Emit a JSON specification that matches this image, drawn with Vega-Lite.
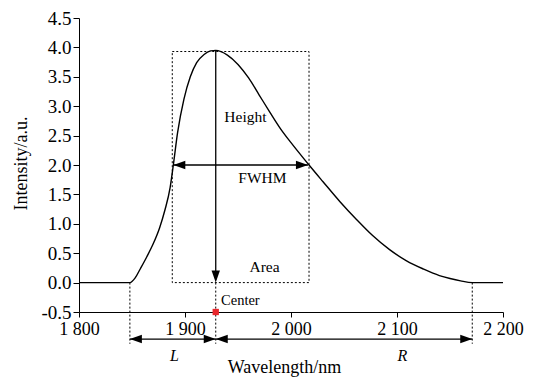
{
  "$schema": "https://vega.github.io/schema/vega-lite/v6.json",
  "width": 424,
  "height": 294,
  "autosize": "none",
  "padding": {"left": 79, "top": 18, "right": 31, "bottom": 66},
  "background": "white",
  "config": {
    "view": {"stroke": null},
    "font": "Liberation Serif",
    "axis": {
      "grid": false,
      "domainColor": "black",
      "tickColor": "black",
      "labelColor": "black",
      "titleColor": "black",
      "labelFont": "Liberation Serif",
      "titleFont": "Liberation Serif",
      "labelFontSize": 18,
      "titleFontSize": 18,
      "titleFontWeight": "normal",
      "domainWidth": 1,
      "tickWidth": 1
    }
  },
  "encoding": {
    "x": {
      "field": "x",
      "type": "quantitative",
      "scale": {"domain": [1800, 2200], "nice": false, "zero": false},
      "axis": {
        "values": [1800, 1900, 2000, 2100, 2200],
        "labelExpr": "replace(format(datum.value, ',d'), ',', ' ')",
        "tickSize": 5,
        "labelPadding": 3,
        "labelFlush": false,
        "title": "Wavelength/nm",
        "titleX": 205,
        "titleY": 55,
        "titleBaseline": "middle",
        "titleAnchor": null
      }
    },
    "y": {
      "field": "y",
      "type": "quantitative",
      "scale": {"domain": [-0.5, 4.5], "nice": false, "zero": false},
      "axis": {
        "values": [-0.5, 0, 0.5, 1, 1.5, 2, 2.5, 3, 3.5, 4, 4.5],
        "labelExpr": "datum.value < 0 ? '-' + format(-datum.value, '.1f') : format(datum.value, '.1f')",
        "labelFontSize": 19,
        "tickSize": 6,
        "labelPadding": 2,
        "labelFlush": false,
        "title": "Intensity/a.u.",
        "titleX": -58,
        "titleY": 145,
        "titleBaseline": "middle",
        "titleAnchor": null
      }
    }
  },
  "layer": [
    {
      "data": {"values": [{"x": 1888, "x2": 2017, "y": 0, "y2": 3.93}]},
      "mark": {"type": "rect", "filled": false, "stroke": "black", "strokeWidth": 1, "strokeDash": [2, 2]},
      "encoding": {"x2": {"field": "x2"}, "y2": {"field": "y2"}}
    },
    {
      "data": {"values": [
        {"x": 1800, "y": 0}, {"x": 1848, "y": 0}, {"x": 1853, "y": 0.08}, {"x": 1858, "y": 0.24},
        {"x": 1864, "y": 0.44}, {"x": 1870, "y": 0.66}, {"x": 1876, "y": 0.93}, {"x": 1881, "y": 1.23},
        {"x": 1886, "y": 1.62}, {"x": 1889, "y": 2.0}, {"x": 1893, "y": 2.55}, {"x": 1899, "y": 3.12},
        {"x": 1905, "y": 3.5}, {"x": 1911, "y": 3.74}, {"x": 1918, "y": 3.88}, {"x": 1924, "y": 3.94},
        {"x": 1929, "y": 3.95}, {"x": 1940, "y": 3.87}, {"x": 1950, "y": 3.71}, {"x": 1960, "y": 3.48},
        {"x": 1970, "y": 3.19}, {"x": 1980, "y": 2.9}, {"x": 1990, "y": 2.62}, {"x": 2000, "y": 2.38},
        {"x": 2017, "y": 2.0}, {"x": 2030, "y": 1.72}, {"x": 2046, "y": 1.38}, {"x": 2062, "y": 1.07},
        {"x": 2077, "y": 0.8}, {"x": 2093, "y": 0.56}, {"x": 2109, "y": 0.37}, {"x": 2125, "y": 0.23},
        {"x": 2140, "y": 0.12}, {"x": 2150, "y": 0.07}, {"x": 2160, "y": 0.03}, {"x": 2171, "y": 0},
        {"x": 2200, "y": 0}
      ]},
      "mark": {"type": "line", "interpolate": "monotone", "color": "black", "strokeWidth": 1.4},
      "encoding": {}
    },
    {
      "data": {"values": [
        {"x": 1929, "x2": 1929, "y": 3.95, "y2": 0.05},
        {"x": 1889, "x2": 2016, "y": 2.0, "y2": 2.0},
        {"x": 1848, "x2": 1929, "y": -0.96, "y2": -0.96},
        {"x": 1929, "x2": 2171, "y": -0.96, "y2": -0.96}
      ]},
      "mark": {"type": "rule", "color": "black", "strokeWidth": 1.3},
      "encoding": {"x2": {"field": "x2"}, "y2": {"field": "y2"}}
    },
    {
      "data": {"values": [
        {"x": 1848, "x2": 1848, "y": 0, "y2": -1.04},
        {"x": 1929, "x2": 1929, "y": 0, "y2": -1.04},
        {"x": 2171, "x2": 2171, "y": 0, "y2": -1.04}
      ]},
      "mark": {"type": "rule", "color": "black", "strokeWidth": 1, "strokeDash": [2, 2]},
      "encoding": {"x2": {"field": "x2"}, "y2": {"field": "y2"}}
    },
    {
      "data": {"values": [
        {"x": 1929, "y": 0, "dir": "down"},
        {"x": 1889, "y": 2.0, "dir": "left"},
        {"x": 2016, "y": 2.0, "dir": "right"},
        {"x": 1848, "y": -0.96, "dir": "left"},
        {"x": 1929, "y": -0.96, "dir": "right"},
        {"x": 1929, "y": -0.96, "dir": "left"},
        {"x": 2171, "y": -0.96, "dir": "right"}
      ]},
      "mark": {"type": "point", "filled": true, "color": "black", "opacity": 1, "size": 144},
      "encoding": {
        "shape": {
          "field": "dir",
          "type": "nominal",
          "scale": {
            "domain": ["left", "right", "down"],
            "range": ["M0,0L2,-0.7L2,0.7Z", "M0,0L-2,-0.7L-2,0.7Z", "M0,0L-0.7,-2L0.7,-2Z"]
          },
          "legend": null
        }
      }
    },
    {
      "data": {"values": [{"x": 1929, "y": -0.5}]},
      "mark": {"type": "point", "shape": "square", "filled": true, "color": "#e8262c", "opacity": 1, "size": 40},
      "encoding": {}
    },
    {
      "data": {"values": [
        {"x": 1957, "y": 2.82, "label": "Height"},
        {"x": 1973, "y": 1.78, "label": "FWHM"},
        {"x": 1975, "y": 0.27, "label": "Area"}
      ]},
      "mark": {"type": "text", "fontSize": 15.5, "color": "black", "align": "center", "baseline": "middle", "font": "Liberation Serif"},
      "encoding": {"text": {"field": "label"}}
    },
    {
      "data": {"values": [{"x": 1934, "y": -0.31, "label": "Center"}]},
      "mark": {"type": "text", "fontSize": 14.5, "color": "black", "align": "left", "baseline": "middle", "font": "Liberation Serif"},
      "encoding": {"text": {"field": "label"}}
    },
    {
      "data": {"values": [
        {"x": 1890, "y": -1.25, "label": "L"},
        {"x": 2105, "y": -1.25, "label": "R"}
      ]},
      "mark": {"type": "text", "fontSize": 16, "fontStyle": "italic", "color": "black", "align": "center", "baseline": "middle", "font": "Liberation Serif"},
      "encoding": {"text": {"field": "label"}}
    }
  ]
}
